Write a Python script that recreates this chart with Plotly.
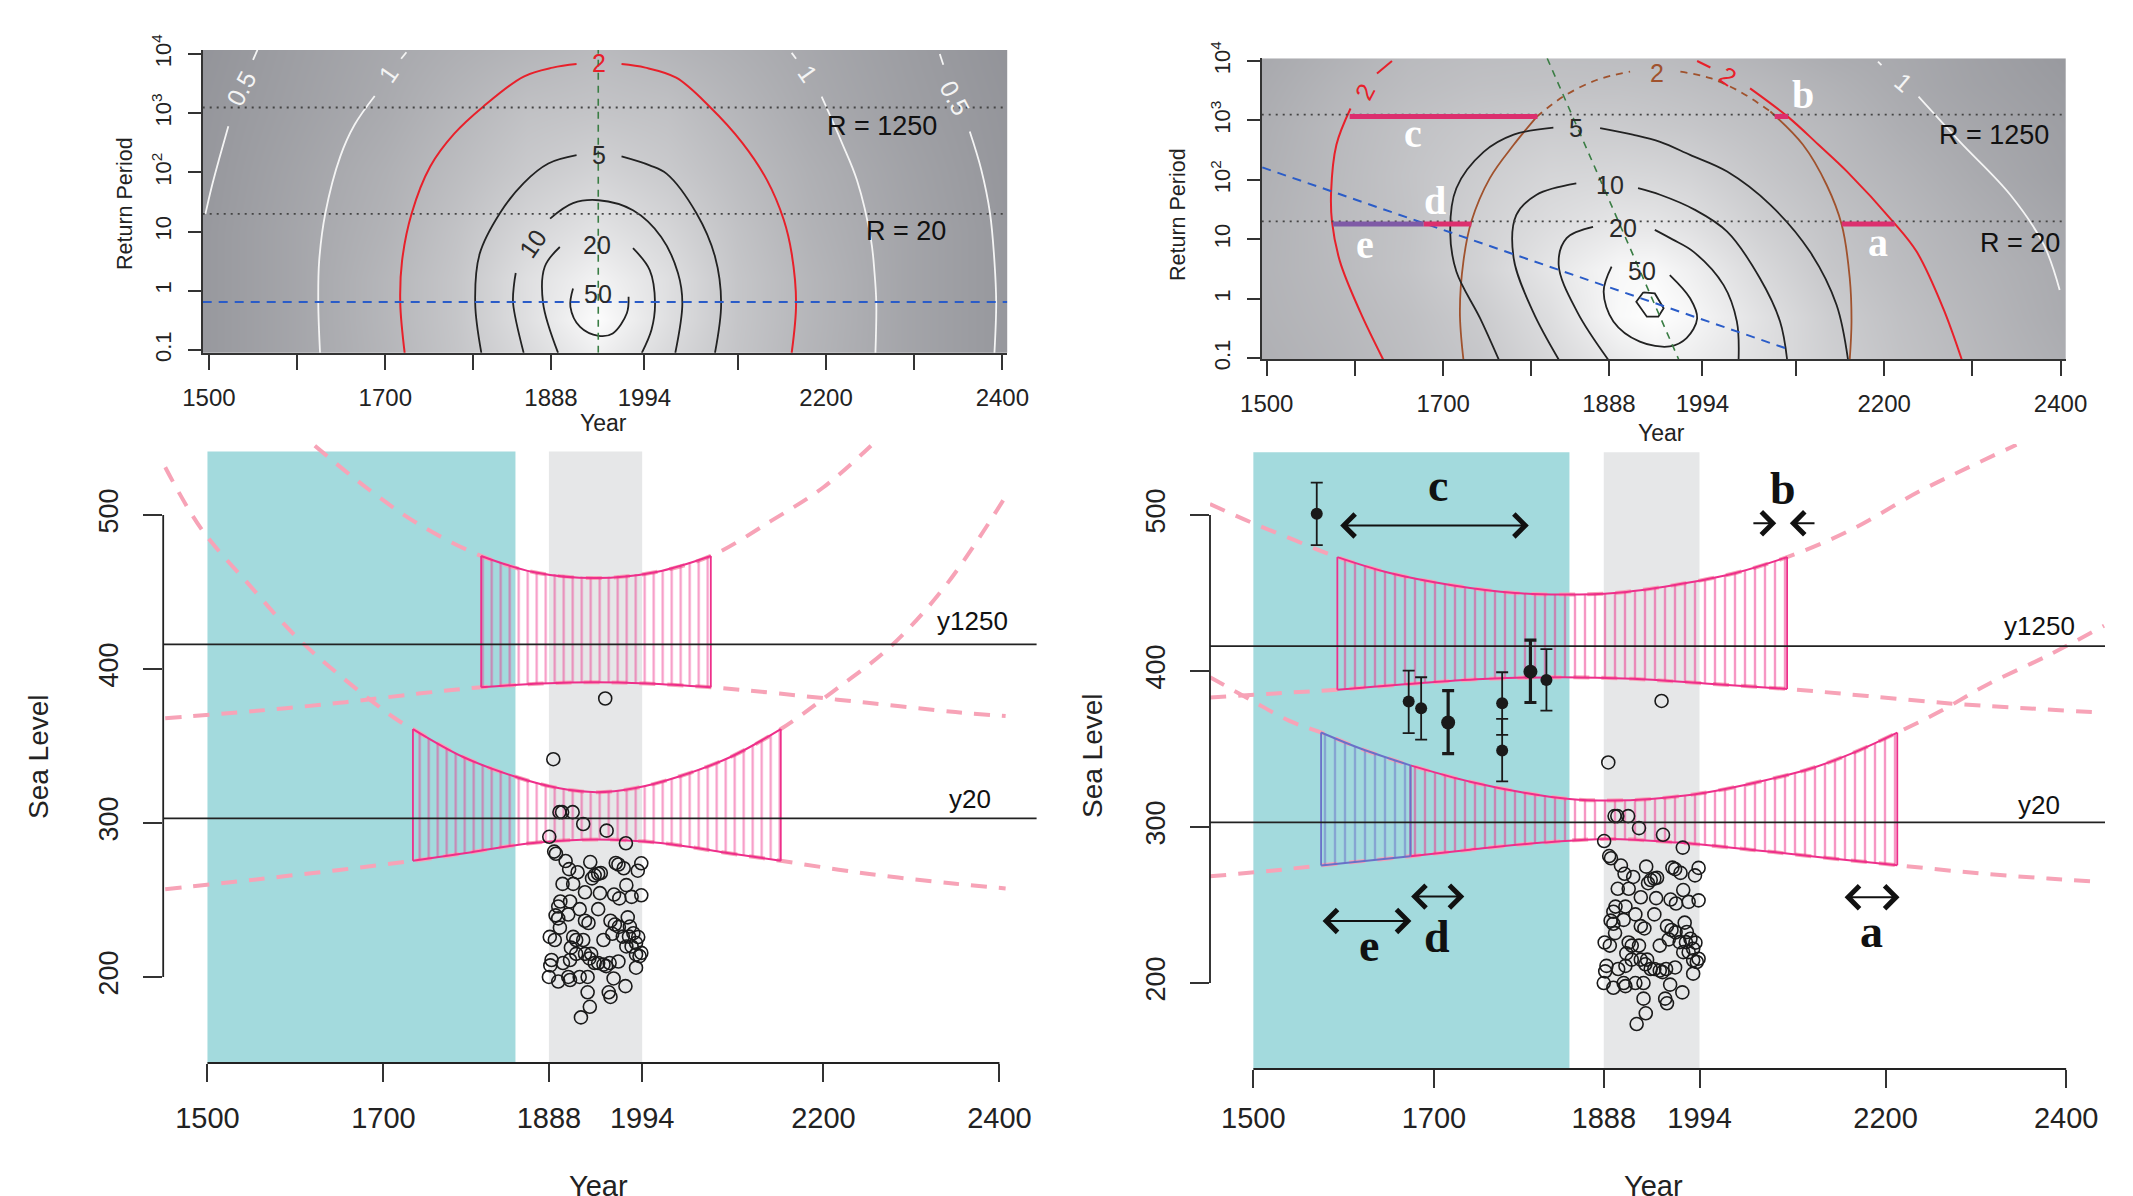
import math
import plotly.graph_objects as go

W, H = 2133, 1196
SANS = "Liberation Sans, Arial, sans-serif"
SERIF = "Liberation Serif, Times New Roman, serif"

# ====================== TOP-LEFT panel (year vs log10 return period) ======================
tl_bg_years = [1493, 1600, 1700, 1780, 1860, 1942, 2020, 2100, 2180, 2290, 2406]
tl_bg_logs = [-1.05, -0.5, 0.2, 1.0, 2.0, 3.0, 4.07]
tl_bg_gray = [
    [155, 168, 183, 198, 218, 240, 218, 198, 183, 167, 154],
    [155, 168, 184, 199, 224, 252, 224, 199, 184, 167, 154],
    [155, 168, 184, 199, 224, 243, 224, 199, 184, 167, 154],
    [155, 168, 181, 196, 215, 228, 215, 196, 181, 167, 154],
    [154, 166, 178, 190, 203, 212, 203, 190, 178, 165, 153],
    [153, 163, 173, 184, 195, 198, 195, 184, 173, 162, 152],
    [151, 161, 170, 177, 183, 188, 183, 177, 170, 160, 150],
]
tl_c05_left_a = [(1496, 1.30), (1503, 1.75), (1512, 2.25), (1522, 2.78)]
tl_c05_left_b = [(1550, 3.90), (1555, 4.07)]
tl_c1_left_a = [(1626, -1.05), (1624, -0.21), (1625, 0.50), (1632, 1.31), (1649, 2.27), (1665, 2.80), (1688, 3.29)]
tl_c1_left_b = [(1718, 3.92), (1724, 4.03)]
tl_c1_right_a = [(2256, -1.05), (2257, -0.21), (2255, 0.30), (2251, 0.86), (2235, 1.87), (2218, 2.50), (2195, 3.28)]
tl_c1_right_b = [(2166, 3.92), (2161, 4.02)]
tl_c05_right_a = [(2391, -1.05), (2393, -0.21), (2391, 0.50), (2386, 1.31), (2376, 2.05), (2363, 2.69)]
tl_c05_right_b = [(2333, 3.82), (2329, 4.00)]
tl_c2_left = [(1722, -1.05), (1717, -0.21), (1719, 0.50), (1730, 1.31), (1751, 2.10), (1778, 2.65),
              (1811, 3.11), (1857, 3.62), (1890, 3.77), (1917, 3.83)]
tl_c2_right = [(1968, 3.83), (1995, 3.77), (2030, 3.60), (2068, 3.11), (2105, 2.50), (2133, 1.87),
               (2152, 1.20), (2161, 0.63), (2166, -0.21), (2161, -1.05)]
tl_c5_left = [(1809, -1.05), (1802, -0.21), (1807, 0.62), (1830, 1.31), (1857, 1.82), (1885, 2.15), (1917, 2.29)]
tl_c5_right = [(1968, 2.27), (2000, 2.12), (2019, 1.98), (2053, 1.31), (2074, 0.58), (2081, -0.21), (2074, -1.05)]
tl_c10_a = [(1857, -1.05), (1845, -0.21), (1846, 0.10), (1848, 0.30)]
tl_c10_b = [(1887, 1.22), (1913, 1.48), (1942, 1.53), (1981, 1.36), (2013, 0.91), (2032, 0.30),
            (2037, -0.21), (2029, -1.05)]
tl_c20_left = [(1896, -1.05), (1879, -0.21), (1881, 0.41), (1898, 0.74)]
tl_c20_right = [(1981, 0.72), (2000, 0.35), (2006, -0.21), (2002, -0.66), (1991, -1.05)]
tl_c50 = [(1913, 0.04), (1910, -0.27), (1921, -0.61), (1942, -0.76), (1958, -0.72), (1974, -0.38), (1976, -0.10)]
tl_labels = [  # x, y, text, colour, angle
    (1537, 3.42, "0.5", "#f4f4f4", -62), (1703, 3.67, "1", "#f4f4f4", -55),
    (1942, 3.85, "2", "#e8202a", 0), (2180, 3.67, "1", "#f4f4f4", 55),
    (2346, 3.25, "0.5", "#f4f4f4", 62), (1942, 2.30, "5", "#2a2a2a", 0),
    (1868, 0.80, "10", "#2a2a2a", -55), (1940, 0.77, "20", "#2a2a2a", 0),
    (1941, -0.05, "50", "#2a2a2a", 0),
]
tl_center_year = 1941.6
tl_blue_rp = 0.647
tl_r_labels = [(2263, 2.78, "R = 1250"), (2291, 1.01, "R = 20")]

# ====================== TOP-RIGHT panel ======================
tr_bg_years = [1494, 1580, 1660, 1740, 1820, 1900, 1940, 1980, 2060, 2140, 2220, 2300, 2406]
tr_bg_logs = [-1.02, -0.3, 0.5, 1.3, 2.1, 2.9, 3.6, 4.05]
tr_bg_gray = [
    [178, 184, 191, 200, 216, 234, 240, 238, 224, 208, 196, 187, 176],
    [180, 186, 193, 204, 222, 249, 255, 248, 226, 206, 194, 185, 173],
    [181, 188, 197, 211, 230, 248, 249, 240, 218, 200, 190, 182, 172],
    [180, 189, 196, 210, 221, 230, 229, 224, 208, 196, 187, 178, 168],
    [178, 188, 197, 206, 214, 216, 215, 212, 200, 190, 182, 173, 163],
    [176, 187, 195, 201, 205, 204, 202, 200, 193, 186, 176, 169, 161],
    [173, 183, 190, 194, 195, 195, 194, 192, 187, 180, 172, 165, 158],
    [171, 180, 188, 191, 192, 191, 190, 188, 182, 175, 171, 164, 156],
]
tr_c2_left_a = [(1632, -1.02), (1606, -0.22), (1583, 0.63), (1574, 1.30), (1573, 1.80), (1579, 2.59), (1595, 3.20)]
tr_c2_left_b = [(1625, 3.79), (1642, 4.00)]
tr_c2_right_a = [(2288, -1.02), (2267, -0.16), (2237, 0.79), (2210, 1.30), (2158, 2.14), (2125, 2.60),
                 (2091, 3.06), (2048, 3.54)]
tr_c2_right_b = [(1988, 4.00), (2003, 3.89)]
tr_brown_left = [(1723, -1.02), (1719, -0.22), (1723, 0.63), (1732, 1.30), (1753, 2.03), (1780, 2.59), (1806, 3.06)]
tr_brown_top_a = [(1806, 3.06), (1836, 3.40), (1874, 3.68), (1912, 3.82)]
tr_brown_top_b = [(1969, 3.82), (2003, 3.71), (2037, 3.48), (2071, 3.15)]
tr_brown_right = [(2071, 3.15), (2108, 2.59), (2135, 1.91), (2152, 1.24), (2161, 0.35), (2163, -0.38), (2161, -1.02)]
tr_c5_left = [(1763, -1.02), (1742, -0.33), (1715, 0.46), (1708, 1.13), (1715, 1.86), (1746, 2.47), (1780, 2.76), (1825, 2.88)]
tr_c5_right = [(1878, 2.87), (1915, 2.76), (1946, 2.64), (1980, 2.42), (2022, 2.14), (2071, 1.58), (2116, 0.79),
               (2146, -0.10), (2159, -1.02)]
tr_c10_left = [(1831, -1.02), (1802, -0.22), (1780, 0.68), (1783, 1.41), (1806, 1.75), (1851, 1.94)]
tr_c10_right = [(1921, 1.86), (1946, 1.75), (1985, 1.50), (2022, 1.13), (2059, 0.35), (2082, -0.38), (2090, -1.02)]
tr_c20_left = [(1887, -1.02), (1852, -0.22), (1831, 0.57), (1840, 1.02), (1870, 1.21)]
tr_c20_right = [(1940, 1.16), (1960, 1.00), (1984, 0.79), (2018, 0.23), (2033, -0.38), (2035, -1.02)]
tr_c50 = [(1891, 0.54), (1882, 0.12), (1893, -0.38), (1923, -0.72), (1957, -0.80), (1976, -0.66), (1988, -0.33),
          (1980, 0.01), (1957, 0.40)]
tr_hexagon = [(1927, 0.11), (1940, 0.09), (1950, -0.16), (1944, -0.30), (1931, -0.30), (1919, -0.05), (1927, 0.11)]
tr_white1_a = [(2193, 3.99), (2197, 3.93)]
tr_white1_b = [(2239, 3.40), (2286, 2.64), (2343, 1.75), (2381, 0.91), (2399, 0.15)]
tr_green = [(1818, 4.045), (1967, -1.017)]
tr_blue = [(1495, 2.21), (2088, -0.83)]
tr_labels = [
    (1611, 3.48, "2", "#e8202a", -62), (1942, 3.79, "2", "#a0522d", 0), (2023, 3.74, "2", "#e8202a", 35),
    (1851, 2.87, "5", "#2a2a2a", 0), (1889, 1.91, "10", "#2a2a2a", 0), (1904, 1.19, "20", "#2a2a2a", 0),
    (1925, 0.46, "50", "#2a2a2a", 0), (2222, 3.65, "1", "#f4f4f4", 40),
]
tr_r_labels = [(2325, 2.76, "R = 1250"), (2354, 0.94, "R = 20")]
tr_bars = [  # x0, x1, log10 RP, colour
    (1594, 1807, 3.065, "#dc2f6e"), (1575, 1678, 1.26, "#7f5aa6"), (1678, 1732, 1.26, "#dc2f6e"),
    (2076, 2091, 3.065, "#dc2f6e"), (2152, 2212, 1.26, "#dc2f6e"),
]
tr_letters = [(1666, 2.78, "c"), (1691, 1.66, "d"), (1611, 0.92, "e"), (2108, 3.43, "b"), (2193, 0.95, "a")]

top_xticks = [1500, 1600, 1700, 1800, 1888, 1994, 2100, 2200, 2300, 2400]
top_xtext = ["1500", " ", "1700", " ", "1888", "1994", " ", "2200", " ", "2400"]
top_yticks = [-1, 0, 1, 2, 3, 4]
top_ytext = ["0.1", "1", "10", "10<sup>2</sup>", "10<sup>3</sup>", "10<sup>4</sup>"]

# ====================== BOTTOM panels (sea level) ======================
obs_year = [1952, 1893, 1900, 1903, 1915, 1927, 1953.6, 1888.4, 1975.5, 1894, 1896, 1907, 1935, 1964, 1967, 1993,
            1911, 1920.6, 1940, 1944, 1947, 1937, 1973, 1989, 1976, 1903.5, 1915.6, 1929, 1946, 1962, 1968, 1982,
            1993, 1901, 1898.6, 1912, 1923, 1944, 1895.6, 1898.6, 1900.5, 1929, 1933, 1910, 1958, 1963, 1967.5,
            1977.6, 1889, 1894.7, 1915.6, 1919, 1927, 1950, 1913, 1929, 1934, 1940, 1944, 1950, 1953, 1957, 1891,
            1889.6, 1888, 1898.6, 1910, 1912, 1923, 1932, 1961.5, 1975, 1987, 1991, 1987, 1993, 1932, 1956, 1958,
            1934.5, 1924.4, 1980, 1984, 1989.5, 1987, 1979, 1972, 1976, 1982, 1919, 1912, 1904, 1967, 1936, 1960]
obs_level = [380.8, 341.4, 307, 307, 307, 299.3, 295, 291, 286.8, 281.4, 280, 275.3, 274.6, 274, 273, 273.8,
             270, 268, 266, 267, 267.5, 264, 270.6, 269, 259.6, 260.4, 260.4, 255, 254.4, 253.5, 251, 252,
             253, 249, 245.7, 249, 244, 244, 240, 238, 232, 236.5, 235, 240.5, 236.5, 234, 232.5,
             238.7, 226, 224, 226, 224, 224, 224, 219, 215, 212, 209, 209, 208, 207, 209, 211,
             207.5, 200, 197, 200, 198, 200, 200, 199, 194, 206, 213.5, 214.6, 215.6, 190, 190, 187,
             180.6, 173.7, 232.7, 228.4, 225.9, 222, 226.2, 226.2, 219.8, 219.8, 215, 211, 209, 210, 215, 228]

bl_y20_up = [(1452, 531), (1493, 491), (1550, 453), (1599, 422), (1650, 396), (1713, 368), (1733.5, 361), (1790, 343),
             (1850, 330), (1900, 322.5), (1942, 320), (1985, 322.5), (2035, 330), (2095, 343), (2151.5, 361),
             (2210, 385), (2277, 415), (2340, 455), (2407, 512)]
bl_y20_lo = [(1452, 257), (1550, 263), (1650, 269.5), (1733.5, 275.4), (1800, 281), (1870, 287), (1942, 289.3),
             (2015, 287), (2085, 281), (2151.5, 275.4), (2250, 267), (2350, 260.5), (2407, 257.5)]
bl_r1250_up = [(1622, 545), (1680, 518), (1740, 494), (1811, 473.4), (1870, 463), (1941, 459), (2010, 463),
               (2072, 473.4), (2140, 496), (2200, 518), (2254, 545)]
bl_r1250_lo = [(1452, 368), (1550, 372.5), (1650, 378), (1740, 384), (1811, 388.1), (1880, 390.5), (1941, 391.4),
               (2000, 390.5), (2072, 388.1), (2150, 384), (2250, 378), (2350, 372), (2407, 369.4)]
bl_hatch_y20 = (1733.5, 2151.5)
bl_hatch_r1250 = (1811, 2072)

br_r1250_up = [(1452, 507), (1497, 495.4), (1545, 484), (1593, 473), (1650, 463), (1720, 455), (1790, 450),
               (1842, 449), (1900, 450), (1965, 455), (2035, 463), (2091, 473), (2160, 490), (2237, 515),
               (2290, 530), (2345, 545)]
br_r1250_lo = [(1452, 383), (1520, 385.5), (1593, 388), (1680, 392), (1760, 395), (1842, 396), (1920, 395),
               (2000, 392), (2091, 388.5), (2180, 384), (2276, 379), (2360, 376), (2434, 373.5)]
br_y20_up = [(1452, 396), (1497, 381.5), (1540, 368), (1575, 360.6), (1620, 350), (1674, 339.5), (1740, 329),
             (1800, 322), (1850, 318), (1894, 317), (1940, 318), (2000, 322), (2060, 329), (2120, 338), (2170, 349),
             (2213, 360.5), (2260, 374), (2314, 391.7), (2380, 410), (2442, 429)]
br_y20_lo = [(1452, 268.4), (1520, 272), (1575, 275.4), (1674, 281.3), (1740, 285.5), (1820, 290), (1894, 292.4),
             (1970, 290), (2050, 285.5), (2130, 280.5), (2213, 275.5), (2300, 270.5), (2380, 267), (2434, 265)]
br_hatch_r1250 = (1593, 2091)
br_hatch_y20_e = (1575, 1674)
br_hatch_y20 = (1674, 2213)

eb_year = [1570.2, 1672, 1685.8, 1715.7, 1775.5, 1775.5, 1806.8, 1824.5]
eb_level = [500.8, 380.4, 376.2, 367, 379.4, 349.1, 399.6, 394.3]
eb_hi = [520.8, 400.2, 396, 387.4, 399.2, 369.3, 419.8, 414]
eb_lo = [480.7, 360.2, 356, 347, 359.1, 329.3, 379.8, 374.6]
eb_thick = [False, False, False, True, False, False, True, False]

br_arrows = [  # x_tail, x_head, level, double-headed
    (1594.5, 1805, 493.3, True), (2052, 2079, 494.7, False), (2123, 2094, 494.7, False),
    (2153, 2215.5, 255, True), (1673, 1733.6, 255.4, True), (1575, 1675, 239.8, True),
]
br_letters = [(1705, 519, "c"), (2086, 517, "b"), (2185, 233, "a"), (1703.5, 230, "d"), (1628, 224, "e")]

y1250_level, y20_level = 416, 303
cal_band = (1500, 1850)
obs_band = (1888, 1994)
bottom_xticks = [1500, 1700, 1888, 1994, 2200, 2400]
bottom_yticks = [200, 300, 400, 500]

# ====================== helpers ======================
PINK = "#ee2f8a"
LPINK = "#f7a3b7"
PURPLE = "#6a70c8"
CYAN = "#a3dadd"
GRAYBAND = "#e6e7e8"

fig = go.Figure()


def xs(pts):
    return [p[0] for p in pts]


def ys(pts):
    return [p[1] for p in pts]


def line(pts, ax, color, width=1.8, dash=None, shape="spline"):
    fig.add_trace(go.Scatter(x=xs(pts), y=ys(pts), mode="lines", xaxis=ax[0], yaxis=ax[1],
                             line=dict(color=color, width=width, dash=dash, shape=shape),
                             hoverinfo="skip", showlegend=False))


def sub(pts, a, b):
    return [p for p in pts if a - 1e-6 <= p[0] <= b + 1e-6]


def hatch(up, lo, rng, ax, color, size):
    u = sub(up, *rng)
    l = sub(lo, *rng)
    poly = u + l[::-1] + [u[0]]
    fig.add_trace(go.Scatter(x=xs(poly), y=ys(poly), mode="lines", xaxis=ax[0], yaxis=ax[1],
                             fill="toself", fillcolor="rgba(0,0,0,0)",
                             fillpattern=dict(shape="|", fgcolor=color, bgcolor="rgba(0,0,0,0)",
                                              size=size, solidity=0.24),
                             line=dict(width=0, color=color), hoverinfo="skip", showlegend=False))
    line(u, ax, color, 2)
    line(l, ax, color, 2)
    line([l[0], u[0]], ax, color, 1.8, shape="linear")
    line([l[-1], u[-1]], ax, color, 1.8, shape="linear")


annotations = []
shapes = []


def text(x, y, t, ax, size=24, color="#222", angle=0, family=SANS):
    annotations.append(dict(x=x, y=y, xref=ax[0], yref=ax[1], text=t, showarrow=False, textangle=angle,
                            font=dict(family=family, size=size, color=color), xanchor="center", yanchor="middle"))


def ptext(px, py, t, size, angle=0, family=SANS, color="#222"):
    annotations.append(dict(x=px / W, y=1 - py / H, xref="paper", yref="paper", text=t, showarrow=False,
                            textangle=angle, font=dict(family=family, size=size, color=color),
                            xanchor="center", yanchor="middle"))


# ---------------------------- top-left ----------------------------
TL = ("x", "y")
fig.add_trace(go.Heatmap(x=tl_bg_years, y=tl_bg_logs, z=tl_bg_gray, zmin=140, zmax=255, zsmooth="best",
                         colorscale=[[0, "rgb(136,137,143)"], [1, "rgb(255,255,255)"]], showscale=False,
                         xaxis="x", yaxis="y", hoverinfo="skip"))
for seg in [tl_c05_left_a, tl_c05_left_b, tl_c1_left_a, tl_c1_left_b, tl_c1_right_a, tl_c1_right_b,
            tl_c05_right_a, tl_c05_right_b]:
    line(seg, TL, "#f4f4f4", 1.8)
for seg in [tl_c2_left, tl_c2_right]:
    line(seg, TL, "#e8202a", 2)
for seg in [tl_c5_left, tl_c5_right, tl_c10_a, tl_c10_b, tl_c20_left, tl_c20_right, tl_c50]:
    line(seg, TL, "#222222", 1.8)
for rp in (1250, 20):
    line([(1492.9, math.log10(rp)), (2405.6, math.log10(rp))], TL, "#444", 1.8, "2px,5px", "linear")
line([(tl_center_year, -1.046), (tl_center_year, 4.068)], TL, "#3a7d44", 1.6, "7px,6px", "linear")
line([(1492.9, math.log10(tl_blue_rp)), (2405.6, math.log10(tl_blue_rp))], TL, "#2a5cc8", 2, "9px,7px", "linear")
for x, y, t, c, a in tl_labels:
    text(x, y, t, TL, 25, c, a)
for x, y, t in tl_r_labels:
    text(x, y, t, TL, 27, "#111")

# ---------------------------- top-right ----------------------------
TR = ("x2", "y2")
fig.add_trace(go.Heatmap(x=tr_bg_years, y=tr_bg_logs, z=tr_bg_gray, zmin=140, zmax=255, zsmooth="best",
                         colorscale=[[0, "rgb(136,137,143)"], [1, "rgb(255,255,255)"]], showscale=False,
                         xaxis="x2", yaxis="y2", hoverinfo="skip"))
for seg in [tr_white1_a, tr_white1_b]:
    line(seg, TR, "#f4f4f4", 1.8)
line(tr_brown_left, TR, "#a0522d", 1.8)
line(tr_brown_right, TR, "#a0522d", 1.8)
line(tr_brown_top_a, TR, "#a0522d", 1.8, "7px,6px")
line(tr_brown_top_b, TR, "#a0522d", 1.8, "7px,6px")
for seg in [tr_c2_left_a, tr_c2_left_b, tr_c2_right_a, tr_c2_right_b]:
    line(seg, TR, "#e8202a", 2)
for seg in [tr_c5_left, tr_c5_right, tr_c10_left, tr_c10_right, tr_c20_left, tr_c20_right, tr_c50]:
    line(seg, TR, "#222222", 1.8)
line(tr_hexagon, TR, "#222222", 1.8, shape="linear")
for rp in (1250, 20):
    line([(1494.3, math.log10(rp)), (2406.2, math.log10(rp))], TR, "#444", 1.8, "2px,5px", "linear")
line(tr_green, TR, "#3a7d44", 1.6, "7px,6px", "linear")
line(tr_blue, TR, "#2a5cc8", 2, "9px,7px", "linear")
for x0, x1, yv, c in tr_bars:
    line([(x0, yv), (x1, yv)], TR, c, 5, shape="linear")
for x, y, t, c, a in tr_labels:
    text(x, y, t, TR, 25, c, a)
for x, y, t in tr_r_labels:
    text(x, y, t, TR, 27, "#111")
for x, y, t in tr_letters:
    text(x, y, "<b>" + t + "</b>", TR, 40, "white", 0, SERIF)

# ---------------------------- bottom panels ----------------------------
BL = ("x3", "y3")
BR = ("x4", "y4")
for ax, yr in ((BL, (144.1, 541.2)), (BR, (144.9, 540.2))):
    shapes.append(dict(type="rect", xref=ax[0], yref=ax[1], x0=cal_band[0], x1=cal_band[1], y0=yr[0], y1=yr[1],
                       fillcolor=CYAN, line=dict(width=0), layer="below"))
    shapes.append(dict(type="rect", xref=ax[0], yref=ax[1], x0=obs_band[0], x1=obs_band[1], y0=yr[0], y1=yr[1],
                       fillcolor=GRAYBAND, line=dict(width=0), layer="below"))
    for lv in (y1250_level, y20_level):
        shapes.append(dict(type="line", xref=ax[0] + " domain", yref=ax[1], x0=0, x1=1, y0=lv, y1=lv,
                           line=dict(color="#222", width=1.8)))
    # R-style axis segments
    shapes.append(dict(type="line", xref=ax[0], yref=ax[1] + " domain", x0=1500, x1=2400, y0=0, y1=0,
                       line=dict(color="#222", width=1.8)))
    shapes.append(dict(type="line", xref=ax[0] + " domain", yref=ax[1], x0=0, x1=0, y0=200, y1=500,
                       line=dict(color="#222", width=1.8)))

for seg in (bl_y20_up, bl_y20_lo, bl_r1250_up, bl_r1250_lo):
    line(seg, BL, LPINK, 4, "16px,12px")
hatch(bl_r1250_up, bl_r1250_lo, bl_hatch_r1250, BL, PINK, 9)
hatch(bl_y20_up, bl_y20_lo, bl_hatch_y20, BL, PINK, 9)

for seg in (br_y20_up, br_y20_lo, br_r1250_up, br_r1250_lo):
    line(seg, BR, LPINK, 4, "16px,12px")
hatch(br_r1250_up, br_r1250_lo, br_hatch_r1250, BR, PINK, 10)
hatch(br_y20_up, br_y20_lo, br_hatch_y20, BR, PINK, 10)
hatch(br_y20_up, br_y20_lo, br_hatch_y20_e, BR, PURPLE, 10)

for ax in (BL, BR):
    fig.add_trace(go.Scatter(x=obs_year, y=obs_level, mode="markers", xaxis=ax[0], yaxis=ax[1],
                             marker=dict(symbol="circle-open", size=13, color="#1a1a1a", line=dict(width=1.6)),
                             hoverinfo="skip", showlegend=False))

for thick in (False, True):
    idx = [i for i in range(len(eb_year)) if eb_thick[i] == thick]
    fig.add_trace(go.Scatter(
        x=[eb_year[i] for i in idx], y=[eb_level[i] for i in idx], mode="markers", xaxis="x4", yaxis="y4",
        marker=dict(symbol="circle", size=14 if thick else 12, color="#1a1a1a"),
        error_y=dict(type="data", symmetric=False,
                     array=[eb_hi[i] - eb_level[i] for i in idx],
                     arrayminus=[eb_level[i] - eb_lo[i] for i in idx],
                     color="#1a1a1a", thickness=3.2 if thick else 1.8, width=6),
        hoverinfo="skip", showlegend=False))

for x0, x1, lv, both in br_arrows:
    annotations.append(dict(x=x1, y=lv, ax=x0, ay=lv, xref="x4", yref="y4", axref="x4", ayref="y4",
                            text="", showarrow=True, arrowhead=4, startarrowhead=4,
                            arrowside="end+start" if both else "end", arrowsize=2.2, startarrowsize=2.2,
                            arrowwidth=2, arrowcolor="#111"))
for x, y, t in br_letters:
    text(x, y, "<b>" + t + "</b>", BR, 46, "#111", 0, SERIF)

text(2369, 431.3, "y1250", BL, 26, "#111")
text(2367, 315.8, "y20", BL, 26, "#111")
text(2370, 429, "y1250", BR, 26, "#111")
text(2370, 314.2, "y20", BR, 26, "#111")

# axis titles
ptext(125, 204, "Return Period", 21.5, -90)
ptext(1178, 215, "Return Period", 21.5, -90)
ptext(603, 423, "Year", 23)
ptext(1661, 433, "Year", 23)
ptext(38, 756, "Sea Level", 28, -90)
ptext(1092, 756, "Sea Level", 28, -90)
ptext(598, 1186, "Year", 29)
ptext(1653, 1186, "Year", 29)


def dom(a, b, total, flip=False):
    if flip:
        return [1 - b / total, 1 - a / total]
    return [a / total, b / total]


AX = dict(showgrid=False, zeroline=False, ticks="outside", tickcolor="#333", tickwidth=1.5, automargin=False)
top_x = dict(AX, tickvals=top_xticks, ticktext=top_xtext, ticklen=15, showline=True, linecolor="#333",
             linewidth=2, tickfont=dict(family=SANS, size=24, color="#222"), ticklabelstandoff=7)
top_y = dict(AX, tickvals=top_yticks, ticktext=top_ytext, ticklen=13, showline=True, linecolor="#333",
             linewidth=2, tickangle=-90, tickfont=dict(family=SANS, size=22, color="#222"), ticklabelstandoff=8)
bot_x = dict(AX, tickvals=bottom_xticks, ticktext=[str(v) for v in bottom_xticks], ticklen=18, showline=False,
             tickfont=dict(family=SANS, size=29, color="#222"), ticklabelstandoff=11)
bot_y = dict(AX, tickvals=bottom_yticks, ticktext=[str(v) for v in bottom_yticks], ticklen=19, showline=False,
             tickangle=-90, tickfont=dict(family=SANS, size=27, color="#222"), ticklabelstandoff=14)

fig.update_layout(
    width=W, height=H, margin=dict(l=0, r=0, t=0, b=0, autoexpand=False), paper_bgcolor="white",
    plot_bgcolor="rgba(0,0,0,0)", showlegend=False, font=dict(family=SANS),
    xaxis=dict(top_x, domain=dom(202.7, 1007.3, W), range=[1492.9, 2405.6], anchor="y"),
    yaxis=dict(top_y, domain=dom(50, 352.7, H, True), range=[-1.046, 4.068], anchor="x"),
    xaxis2=dict(top_x, domain=dom(1261.7, 2066, W), range=[1494.3, 2406.2], anchor="y2"),
    yaxis2=dict(top_y, domain=dom(58.3, 359.3, H, True), range=[-1.017, 4.045], anchor="x2"),
    xaxis3=dict(bot_x, domain=dom(163.2, 1036.6, W), range=[1449.7, 2442.2], anchor="y3"),
    yaxis3=dict(bot_y, domain=dom(444, 1063, H, True), range=[144.1, 546.1], anchor="x3"),
    xaxis4=dict(bot_x, domain=dom(1210, 2105, W), range=[1452, 2443], anchor="y4", ticklabelstandoff=5),
    yaxis4=dict(bot_y, domain=dom(444, 1069, H, True), range=[144.9, 545.5], anchor="x4"),
    annotations=annotations, shapes=shapes,
)

fig.write_html("out.html")
